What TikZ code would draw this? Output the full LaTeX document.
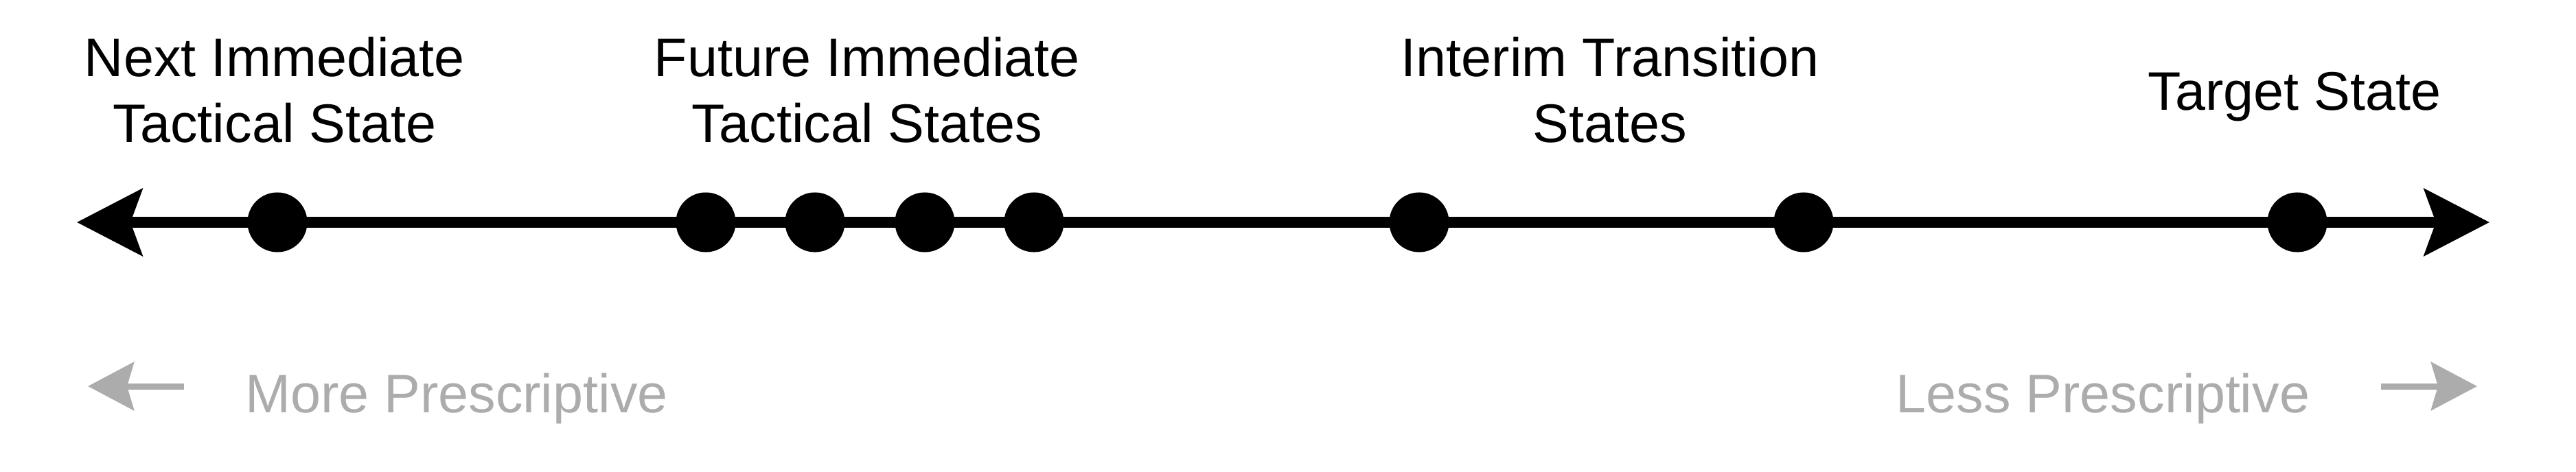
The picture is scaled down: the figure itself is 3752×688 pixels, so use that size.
\documentclass[tikz,border=0pt]{standalone}
\usepackage{fontspec}
\setmainfont{Liberation Sans}
\usetikzlibrary{arrows.meta,shapes.geometric}

\definecolor{hintgray}{RGB}{172,172,172}
\tikzset{
  dot/.style={circle, fill=black, inner sep=0pt, minimum size=0.87cm},
  statelabel/.style={align=center, anchor=base, font=\fontsize{22.5pt}{27.3pt}\selectfont},
  hint/.style={text=hintgray, anchor=base, font=\fontsize{22.5pt}{27.3pt}\selectfont},
  bigtip/.style={line width=0.15cm, {Stealth[length=0.95cm,width=0.97cm,inset=0.17cm]}-{Stealth[length=0.95cm,width=0.97cm,inset=0.17cm]}},
  hinttip/.style={hintgray, line width=0.09cm, -{Stealth[length=0.67cm,width=0.7cm,inset=0.1cm]}},
}

\begin{document}
\begin{tikzpicture}[x=0.01cm, y=-0.01cm]
\useasboundingbox (0,0) rectangle (3752,688);

% Axis
  \coordinate (ltip) at (112,324);
  \coordinate (rtip) at (3626,324);
  \draw[bigtip] (ltip) -- (rtip);

% States
  \foreach \x [count=\i] in {404,1028,1187,1347,1506,2067,2627,3346}
    \node[dot] (s\i) at (\x,324) {};

% Labels
  \foreach \x/\y/\xtext [count=\i] in {400/208/{Next Immediate\\Tactical State}, 1263/208/{Future Immediate\\Tactical States}, 2345/208/{Interim Transition\\States}, 3342/160/{Target State}}
    \node[statelabel] (l\i) at (\x,\y) {\xtext};

% Direction hints
  \coordinate (mfrom) at (268,563);
  \coordinate (mto) at (128,563);
  \draw[hinttip] (mfrom) -- (mto);
  \node[hint] (more) at (665,601) {More Prescriptive};

  \coordinate (lfrom) at (3468,563);
  \coordinate (lto) at (3608,563);
  \draw[hinttip] (lfrom) -- (lto);
  \node[hint] (less) at (3063,601) {Less Prescriptive};

\end{tikzpicture}
\end{document}
